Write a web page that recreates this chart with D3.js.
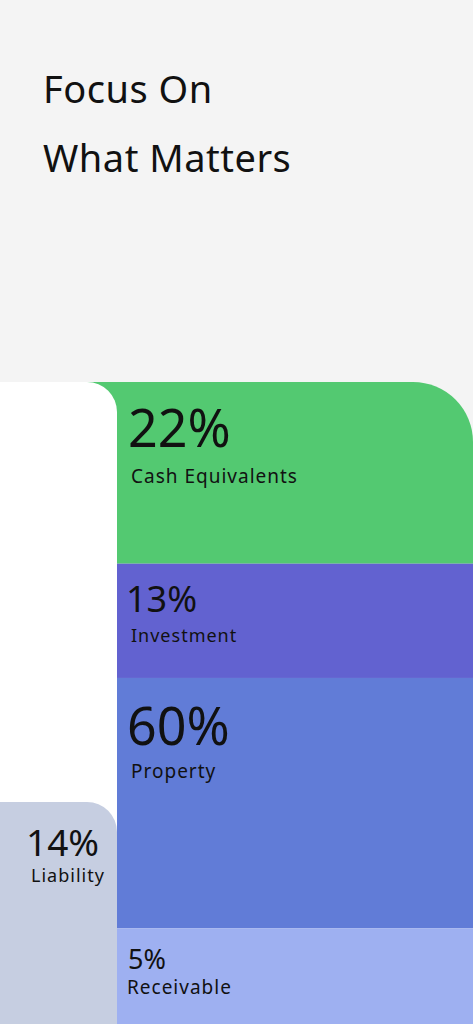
<!DOCTYPE html>
<html><head><meta charset="utf-8">
<script src="https://cdn.jsdelivr.net/npm/d3@7"></script>
<style>body{margin:0;background:#f4f4f4}svg{display:block}text{font-family:"Noto Sans",sans-serif;fill:#111}</style>
</head><body><svg id="c" width="473" height="1024"></svg>
<script>
const assetNames = ["Cash Equivalents","Investment","Property","Receivable"];
const assetValues = [22,13,60,5];
const assetShares = [28.3,17.8,39,14.9]; // visual band share of column as drawn
const assetColors = ["#53c971","#6262d0","#617cd7","#9eb0f1"];
const liabilityName = "Liability";
const liabilityValue = 14;
const titleLines = ["Focus On","What Matters"];

(function(){
const svg = d3.select("#c");
svg.append("rect").attr("width",473).attr("height",1024).attr("fill","#f4f4f4");
const colTop = 382, colBottom = 1024;
const y = d3.scaleLinear().domain([0, d3.sum(assetShares)]).range([colTop, colBottom]);
const cum = d3.cumsum(assetShares);
const starts = cum.map((c,i)=>c-assetShares[i]);
const x0 = 117, x1 = 473;

const defs = svg.append("defs");
defs.append("clipPath").attr("id","col").append("path")
  .attr("d",`M60,${colTop} H${x1-60} A60,60 0 0 1 ${x1},${colTop+60} V${colBottom} H60 Z`);
const g = svg.append("g").attr("clip-path","url(#col)");
g.selectAll("rect").data(assetShares).join("rect")
  .attr("x",(d,i)=>i==0?60:x0).attr("width",(d,i)=>x1-(i==0?60:x0))
  .attr("y",(d,i)=>y(starts[i])).attr("height",(d,i)=>y(cum[i])-y(starts[i]))
  .attr("fill",(d,i)=>assetColors[i]);

const r=30;
svg.append("path").attr("fill","#ffffff")
  .attr("d",`M0,${colTop} H${x0-r} A${r},${r} 0 0 1 ${x0},${colTop+r} V${colBottom} H0 Z`);
const lt = 802;
svg.append("path").attr("fill","#c6cee1")
  .attr("d",`M0,${lt} H${x0-r} A${r},${r} 0 0 1 ${x0},${lt+r} V${colBottom} H0 Z`);

svg.selectAll(".t").data(titleLines).join("text").attr("class","t")
  .attr("x",43).attr("y",(d,i)=>103+i*69).attr("font-size",38).attr("letter-spacing",0.5).text(d=>d);

const pctSize=[52,36,52,27], nameSize=[19,18,19,19];
const pctOff=[65,48,67,41], nameOff=[101,78,100,66];
const px=[128,126,127,128], nx=[131,131,131,127];
assetValues.forEach((v,i)=>{
  const yt=y(starts[i]);
  svg.append("text").attr("x",px[i]).attr("y",yt+pctOff[i]).attr("font-size",pctSize[i]).text(v+"%");
  svg.append("text").attr("x",nx[i]).attr("y",yt+nameOff[i]).attr("font-size",nameSize[i]).attr("letter-spacing",1).attr("fill","#222").text(assetNames[i]);
});
svg.append("text").attr("x",26).attr("y",856).attr("font-size",37).text(liabilityValue+"%");
svg.append("text").attr("x",31).attr("y",882).attr("font-size",18).attr("letter-spacing",1).text(liabilityName);
})();
</script></body></html>
